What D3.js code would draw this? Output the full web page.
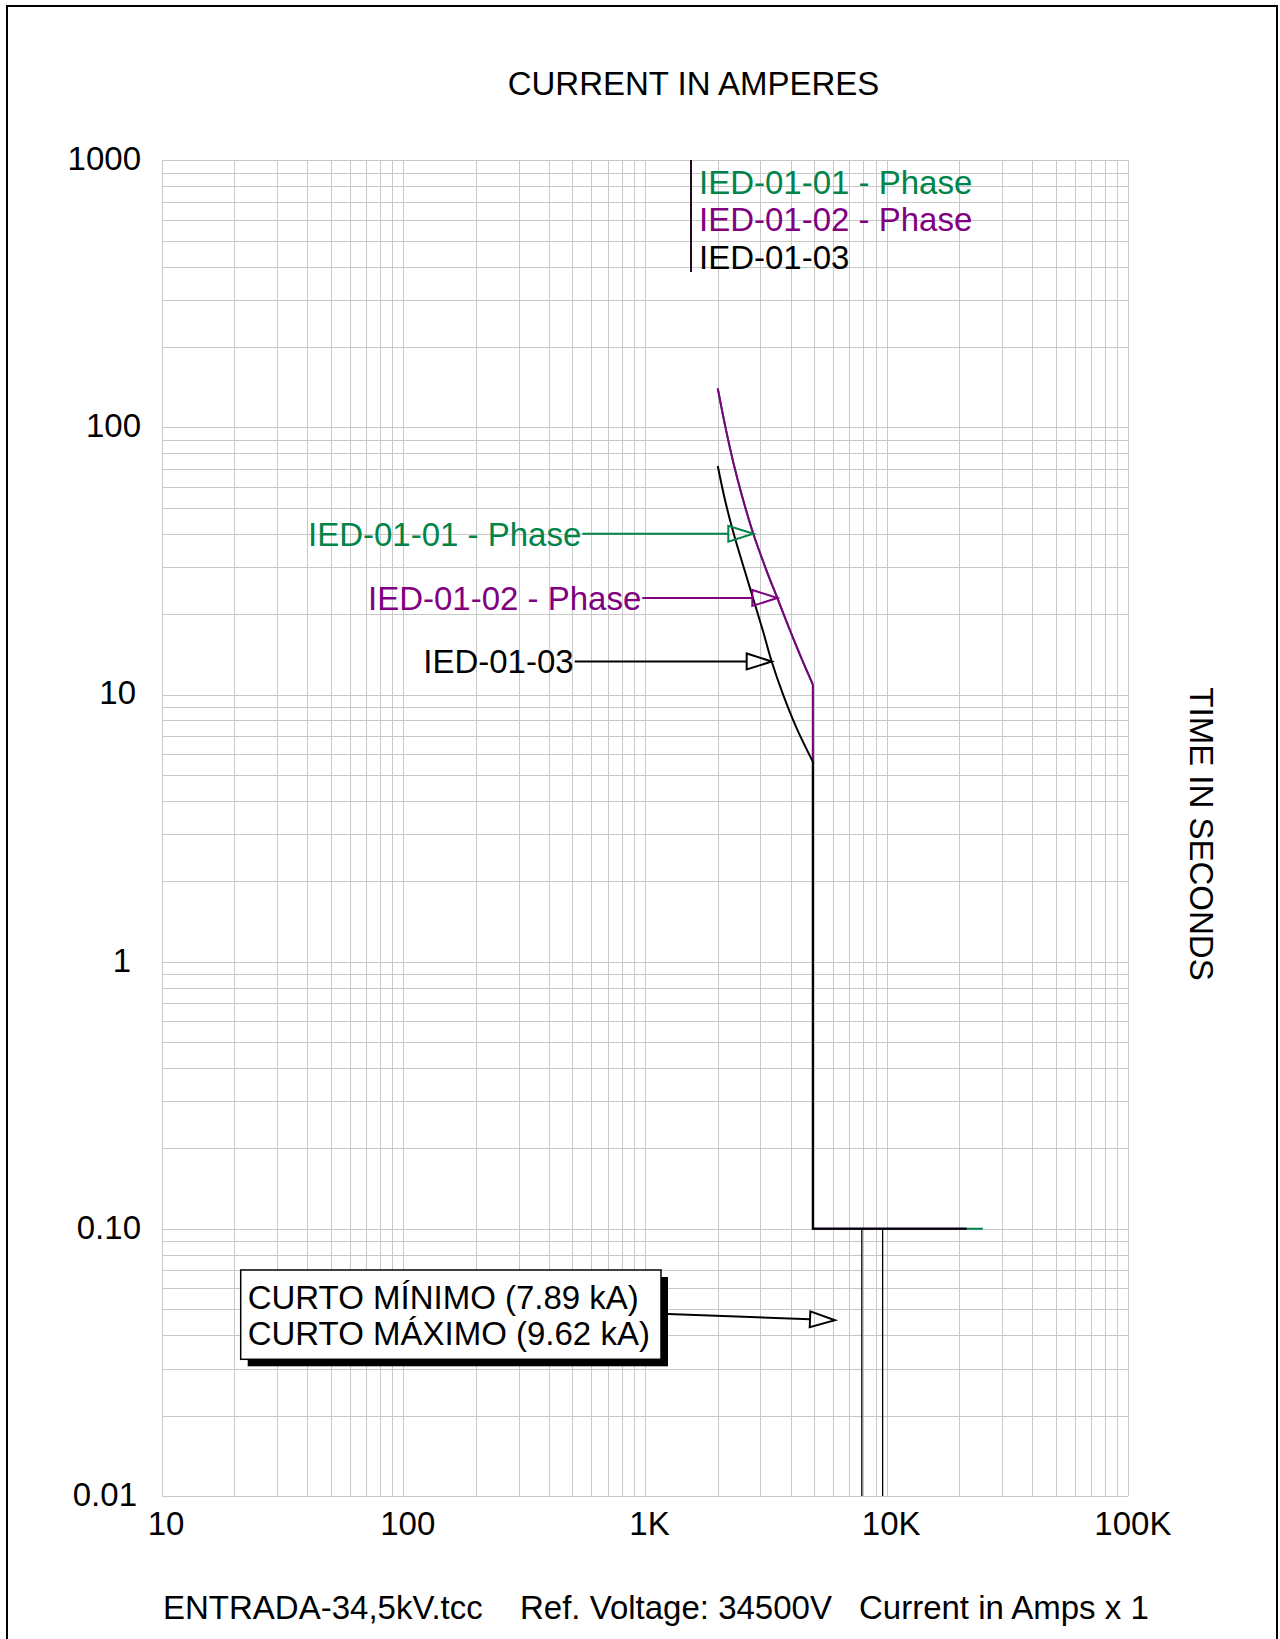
<!DOCTYPE html>
<html lang="en">
<head>
<meta charset="UTF-8" />
<title>ENTRADA-34,5kV.tcc</title>
<style>
  * { padding: 0; margin: 0; box-sizing: border-box; }
  body { background: #fff; }
  svg text { font-family: 'Liberation Sans', Arial, sans-serif; font-size: 33px; fill: #000; }
  .grid line { stroke: #c8c8c8; stroke-width: 1px; shape-rendering: crispEdges; }
  .grid .domain { display: none; }
</style>
</head>
<body>
<svg id="tcc" width="1280" height="1639"></svg>
<script src="https://d3js.org/d3.v7.min.js"></script>
<script>
// axis ticks
const xTicks = [10, 100, 1000, 10000, 100000];
const xTickLabels = ['10', '100', '1K', '10K', '100K'];
const yTicks = [1000, 100, 10, 1, 0.1, 0.01];
const yTickLabels = ['1000', '100', '10', '1', '0.10', '0.01'];

// device curves, [current (A), time (s)]
const ied01 = [[2000, 140], [2143, 102], [2319, 74], [2512, 56], [2806, 40], [3189, 29], [3527, 23],
  [4000, 17.2], [4450, 13.6], [4950, 10.9], [4950, 0.1], [25000, 0.1]];
const ied02 = [[2000, 140], [2143, 102], [2319, 74], [2512, 56], [2806, 40], [3189, 29], [3527, 23],
  [4000, 17.2], [4450, 13.6], [4950, 10.9], [4950, 0.1], [21400, 0.1]];
const ied03 = [[2000, 71.7], [2143, 53.5], [2319, 40.5], [2551, 30.3], [2806, 22.8], [3088, 17.1], [3343, 13.3],
  [3734, 9.95], [4243, 7.47], [4950, 5.6], [4950, 0.1], [21400, 0.1]];

const deviceNames = ['IED-01-01 - Phase', 'IED-01-02 - Phase', 'IED-01-03'];
// where each label arrow points, [current, time]
const arrowTips = [[2806, 40], [3527, 23], [3343, 13.3]];

// short circuit currents (A)
const shortCircuit = [7890, 9620];
const shortCircuitText = ['CURTO MÍNIMO (7.89 kA)', 'CURTO MÁXIMO (9.62 kA)'];
const shortCircuitTip = [6111, 0.0455];

const colors = ['#00844a', '#800080', '#000000'];

const svg = d3.select('#tcc');
const pLeft = 161.6, pRight = 1128.4, pTop = 160.3, pBottom = 1496;

const x = d3.scaleLog().domain([10, 100000]).range([pLeft, pRight]);
const y = d3.scaleLog().domain([0.01, 1000]).range([pBottom, pTop]);

// page border
svg.append('rect')
  .attr('x', 7).attr('y', 6).attr('width', 1270).attr('height', 1700)
  .attr('fill', 'none').attr('stroke', '#000').attr('stroke-width', 2);

// grid
let xGrid = [], yGrid = [];
for (let d = 10; d < 100000; d *= 10) for (let m = 1; m < 10; m++) xGrid.push(d * m);
xGrid.push(100000);
for (let d = 0.01; d < 999; d *= 10) for (let m = 1; m < 10; m++) yGrid.push(+(d * m).toPrecision(3));
yGrid.push(1000);

svg.append('g').attr('class', 'grid')
  .attr('transform', `translate(0,${pBottom})`)
  .call(d3.axisBottom(x).tickValues(xGrid).tickSize(-(pBottom - pTop)).tickFormat(''));
svg.append('g').attr('class', 'grid')
  .attr('transform', `translate(${pLeft},0)`)
  .call(d3.axisLeft(y).tickValues(yGrid).tickSize(-(pRight - pLeft)).tickFormat(''));

// tick labels
const xAxis = svg.append('g')
  .attr('transform', `translate(0,${pBottom})`)
  .call(d3.axisBottom(x).tickValues(xTicks).tickSize(0).tickFormat((d, i) => xTickLabels[i]));
xAxis.select('.domain').remove();
xAxis.attr('font-size', null).attr('font-family', null);
xAxis.selectAll('text')
  .attr('x', 4).attr('y', 39).attr('dy', 0);

// the old plot software does not line these up exactly
const yLabelShift = [0, 0, -5, -10, 0, -4];
const yAxis = svg.append('g')
  .attr('transform', `translate(${pLeft},0)`)
  .call(d3.axisLeft(y).tickValues(yTicks).tickSize(0).tickFormat((d, i) => yTickLabels[i]));
yAxis.select('.domain').remove();
yAxis.attr('font-size', null).attr('font-family', null);
yAxis.selectAll('text')
  .attr('x', (d, i) => -20.6 + yLabelShift[i]).attr('dy', 0).attr('y', 9.3);

// curves: smooth part, then the definite time / instantaneous steps
const smooth = d3.line().x(d => x(d[0])).y(d => y(d[1])).curve(d3.curveCatmullRom);
const straight = d3.line().x(d => x(d[0])).y(d => y(d[1]));

[ied01, ied02, ied03].forEach((pts, i) => {
  let k = pts.findIndex((p, j) => j < pts.length - 1 && p[0] === pts[j + 1][0]);
  svg.append('path')
    .attr('d', smooth(pts.slice(0, k + 1)))
    .attr('fill', 'none').attr('stroke', colors[i]).attr('stroke-width', 2);
  svg.append('path')
    .attr('d', straight(pts.slice(k)))
    .attr('fill', 'none').attr('stroke', colors[i]).attr('stroke-width', 2);
});

// short circuit lines
svg.selectAll('.sc').data(shortCircuit).enter().append('line')
  .attr('x1', d => x(d)).attr('x2', d => x(d))
  .attr('y1', y(0.1)).attr('y2', pBottom)
  .attr('stroke', '#000').attr('stroke-width', 1.3);

function arrowHead(tx, ty, angle, color) {
  svg.append('path')
    .attr('d', 'M0,0L-25,-8L-25,8Z')
    .attr('transform', `translate(${tx},${ty}) rotate(${angle})`)
    .attr('fill', 'none').attr('stroke', color).attr('stroke-width', 2)
    .attr('stroke-linejoin', 'miter');
}

// labels with arrows
const labelLen = [172, 136, 198];
deviceNames.forEach((name, i) => {
  const tx = x(arrowTips[i][0]), ty = y(arrowTips[i][1]);
  const textEnd = tx - labelLen[i];
  svg.append('text')
    .attr('x', textEnd).attr('y', ty + 11.8)
    .attr('text-anchor', 'end')
    .style('fill', colors[i])
    .text(name);
  svg.append('line')
    .attr('x1', textEnd + 1).attr('x2', tx - 25)
    .attr('y1', ty).attr('y2', ty)
    .attr('stroke', colors[i]).attr('stroke-width', 2);
  arrowHead(tx, ty, 0, colors[i]);
});

// legend
svg.append('line')
  .attr('x1', 691).attr('x2', 691).attr('y1', 160).attr('y2', 272)
  .attr('stroke', '#200a20').attr('stroke-width', 2);
deviceNames.forEach((name, i) => {
  svg.append('text')
    .attr('x', 699).attr('y', 193.5 + i * 37.5)
    .style('fill', colors[i])
    .text(name);
});

// short circuit box
const bx = 240.7, by = 1270, bw = 420.3, bh = 89.3;
svg.append('rect')
  .attr('x', bx + 7).attr('y', by + 7).attr('width', bw).attr('height', bh)
  .attr('fill', '#000');
svg.append('rect')
  .attr('x', bx).attr('y', by).attr('width', bw).attr('height', bh)
  .attr('fill', '#fff').attr('stroke', '#000').attr('stroke-width', 1.5);
shortCircuitText.forEach((t, i) => {
  svg.append('text')
    .attr('x', bx + 7).attr('y', by + 38.5 + i * 36.5)
    .text(t);
});
{
  const tx = x(shortCircuitTip[0]), ty = y(shortCircuitTip[1]);
  const sx = bx + bw + 7, sy = 1314;
  const ang = Math.atan2(ty - sy, tx - sx);
  svg.append('line')
    .attr('x1', sx).attr('y1', sy)
    .attr('x2', tx - 25 * Math.cos(ang)).attr('y2', ty - 25 * Math.sin(ang))
    .attr('stroke', '#000').attr('stroke-width', 2);
  arrowHead(tx, ty, ang * 180 / Math.PI, '#000');
}

// titles
svg.append('text')
  .attr('x', 693.5).attr('y', 95)
  .attr('text-anchor', 'middle')
  .text('CURRENT IN AMPERES');
svg.append('text')
  .attr('transform', 'translate(1190,834) rotate(90)')
  .attr('text-anchor', 'middle')
  .text('TIME IN SECONDS');

const foot = svg.append('text').attr('y', 1619);
foot.append('tspan').attr('x', 163).text('ENTRADA-34,5kV.tcc');
foot.append('tspan').attr('x', 520).text('Ref. Voltage: 34500V');
foot.append('tspan').attr('x', 859).text('Current in Amps x 1');
</script>
</body>
</html>
